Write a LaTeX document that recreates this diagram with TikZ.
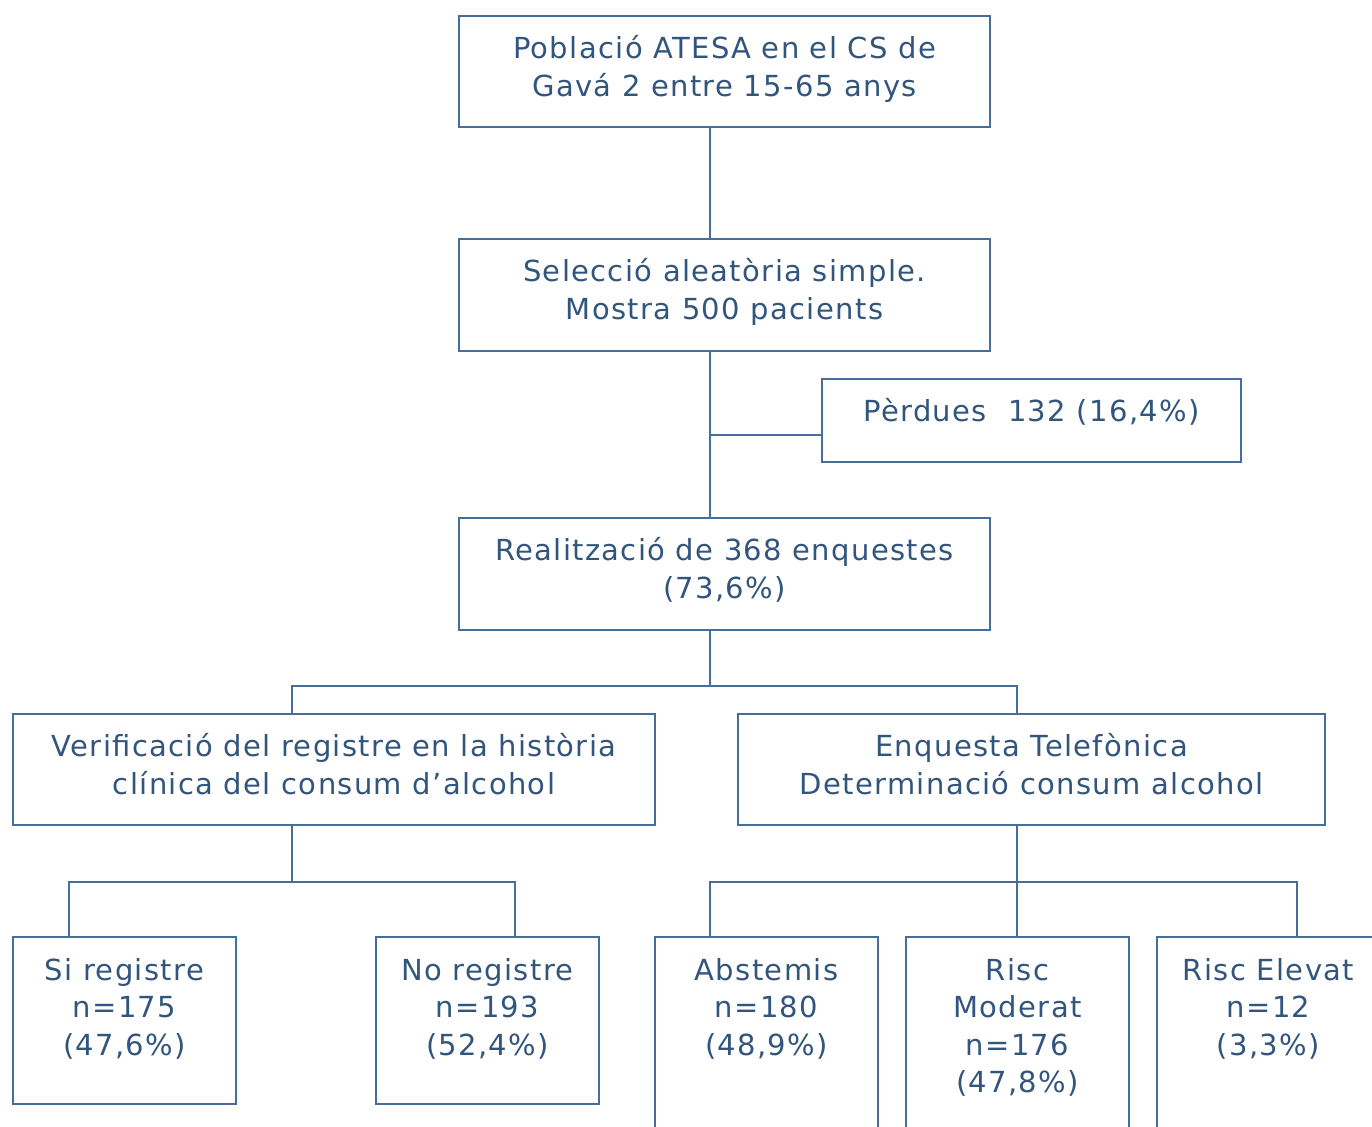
\documentclass[tikz,border=0pt]{standalone}
\usepackage{fontspec}
\setmainfont[LetterSpace=4.7]{DejaVu Sans}
\definecolor{ln}{RGB}{70,110,155}
\definecolor{tx}{RGB}{50,85,125}
\begin{document}
\begin{tikzpicture}[x=0.5pt,y=-0.5pt,
  box/.style={draw=ln,line width=1pt,align=center,text=tx,inner sep=0pt,
    font=\fontsize{14.5}{18.75}\selectfont},
  lbl/.style={align=center,text=tx,inner sep=0pt,anchor=north,
    font=\fontsize{14.5}{18.75}\selectfont},
  con/.style={draw=ln,line width=1pt}]
\path[use as bounding box] (0,0) rectangle (1372,1127);
\clip (0,0) rectangle (1372,1127);
\node[box,minimum width=265.5pt,minimum height=55.5pt] (n1) at (724.5,71.5) {};
\node[box,minimum width=265.5pt,minimum height=56pt] (n2) at (724.5,295) {};
\node[box,minimum width=209.5pt,minimum height=41.5pt] (perd) at (1031.5,420.5) {};
\node[box,minimum width=265.5pt,minimum height=56pt] (n3) at (724.5,574) {};
\node[box,minimum width=321pt,minimum height=55.5pt] (n4) at (334,769.5) {};
\node[box,minimum width=293.5pt,minimum height=55.5pt] (n5) at (1031.5,769.5) {};
\node[box,minimum width=111.5pt,minimum height=83.5pt] (b6) at (124.5,1020.5) {};
\node[box,minimum width=111.5pt,minimum height=83.5pt] (b7) at (487.5,1020.5) {};
\node[box,minimum width=111.5pt,minimum height=150pt] (b8) at (766.5,1087) {};
\node[box,minimum width=111.5pt,minimum height=150pt] (b9) at (1017.5,1087) {};
\node[box,minimum width=111.5pt,minimum height=150pt] (b10) at (1268.5,1087) {};
\node[lbl] (t1) at ([yshift=-10pt]n1.north) {Població ATESA en el CS de\\Gavá 2 entre 15-65 anys};
\node[lbl] (t2) at ([yshift=-10pt]n2.north) {Selecció aleatòria simple.\\Mostra 500 pacients};
\node[lbl] (tp) at ([yshift=-10pt]perd.north) {Pèrdues\ \ 132 (16,4\%)};
\node[lbl] (t3) at ([yshift=-10pt]n3.north) {Realització de 368 enquestes\\(73,6\%)};
\node[lbl] (t4) at ([yshift=-10pt]n4.north) {Verificació del registre en la història\\clínica del consum d’alcohol};
\node[lbl] (t5) at ([yshift=-10pt]n5.north) {Enquesta Telefònica\\Determinació consum alcohol};
\node[lbl] (t6) at ([yshift=-11pt]b6.north) {Si registre\\n=175\\(47,6\%)};
\node[lbl] (t7) at ([yshift=-11pt]b7.north) {No registre\\n=193\\(52,4\%)};
\node[lbl] (t8) at ([yshift=-11pt]b8.north) {Abstemis\\n=180\\(48,9\%)};
\node[lbl] (t9) at ([yshift=-11pt]b9.north) {Risc\\Moderat\\n=176\\(47,8\%)};
\node[lbl] (t10) at ([yshift=-11pt]b10.north) {Risc Elevat\\n=12\\(3,3\%)};
\coordinate (ax) at (710,0);
\coordinate (hp) at (0,435);
\coordinate (h1) at (0,686);
\coordinate (h2) at (0,882);
\coordinate (c4) at (292,0);
\coordinate (c5) at (1017,0);
\coordinate (c6) at (69,0);
\coordinate (c7) at (515,0);
\coordinate (c10) at (1297,0);
\draw[con] (n1.south -| ax) -- (n2.north -| ax);
\draw[con] (n2.south -| ax) -- (n3.north -| ax);
\draw[con] (perd.west |- hp) -- (ax |- hp);
\draw[con] (n3.south -| ax) -- (ax |- h1);
\draw[con] (c4 |- n4.north) -- (c4 |- h1) -- (c5 |- h1) -- (c5 |- n5.north);
\draw[con] (c4 |- n4.south) -- (c4 |- h2);
\draw[con] (c6 |- b6.north) -- (c6 |- h2) -- (c7 |- h2) -- (c7 |- b7.north);
\draw[con] (c5 |- n5.south) -- (c5 |- b9.north);
\draw[con] (ax |- b8.north) -- (ax |- h2) -- (c10 |- h2) -- (c10 |- b10.north);
\end{tikzpicture}
\end{document}
